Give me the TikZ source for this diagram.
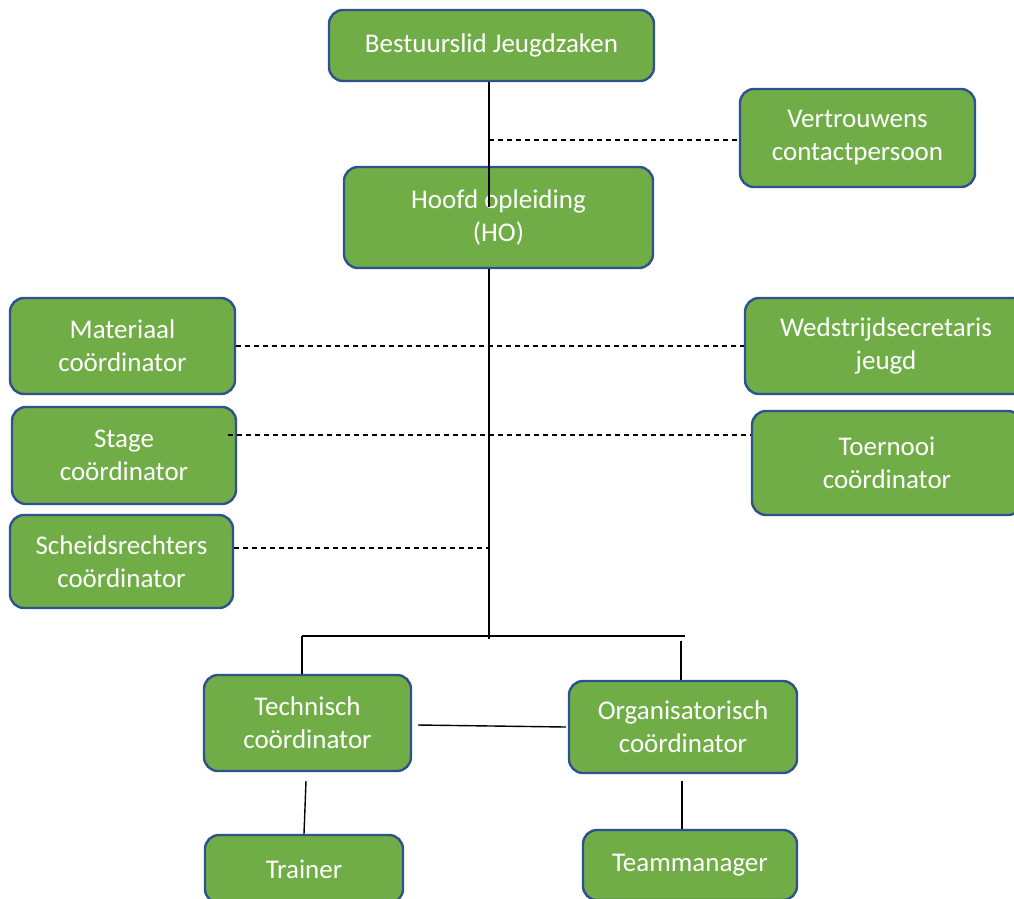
\documentclass[tikz,border=0pt]{standalone}
\usepackage{fontspec}
\setmainfont{Carlito}
\usetikzlibrary{calc}
\definecolor{boxfill}{HTML}{70AD47}
\definecolor{boxline}{HTML}{2F528F}
\tikzset{
  orgbox/.style={draw=boxline, fill=boxfill, line width=2.4pt, rounded corners=14pt,
    text=white, align=center, inner sep=0pt,
    font=\fontsize{27}{33}\selectfont},
  link/.style={draw=black, line width=1.4pt},
  dlink/.style={draw=black, line width=1.2pt, dash pattern=on 5pt off 4pt}
}
\begin{document}
\begin{tikzpicture}[x=1pt,y=-1pt]
\useasboundingbox (0,0) rectangle (1014,898);
% boxes
\node[orgbox, minimum width=325pt, minimum height=71pt] (bj) at (491.5,45.5) {Bestuurslid Jeugdzaken};
\node[orgbox, minimum width=235pt, minimum height=98pt] (vc) at (857.5,138) {Vertrouwens\\contactpersoon};
\node[orgbox, minimum width=309pt, minimum height=101pt] (ho) at (498.5,217.5) {Hoofd opleiding\\(HO)};
\node[orgbox, minimum width=225pt, minimum height=96pt] (mc) at (122.5,346) {Materiaal\\coördinator};
\node[orgbox, minimum width=224pt, minimum height=97pt] (sc) at (124,455.5) {Stage\\coördinator};
\node[orgbox, minimum width=223pt, minimum height=93pt] (sr) at (121.5,561.5) {Scheidsrechters\\coördinator};
\node[orgbox, minimum width=282pt, minimum height=96pt] (ws) at (886,346) {Wedstrijdsecretaris\\jeugd};
\node[orgbox, minimum width=270pt, minimum height=104pt] (tc) at (887,463) {Toernooi\\coördinator};
\node[orgbox, minimum width=207pt, minimum height=96pt] (tk) at (307.5,723) {Technisch\\coördinator};
\node[orgbox, minimum width=228pt, minimum height=92pt] (oc) at (683,727) {Organisatorisch\\coördinator};
\node[orgbox, minimum width=198pt, minimum height=68pt] (tr) at (304,869) {Trainer};
\node[orgbox, minimum width=214pt, minimum height=70pt] (tm) at (690,865) {Teammanager};
% coordinates
\coordinate (sp1) at (489,207);
\coordinate (sp2) at (489,639);
\coordinate (d1) at (489,140);
\coordinate (d3) at (228,435);
\coordinate (d4) at (489,548);
\coordinate (bl) at (302,636);
\coordinate (br) at (685,636);
\coordinate (or1) at (681,641);
\coordinate (t1) at (306,781);
\coordinate (m1) at (682,781);
% connectors
\draw[link] (bj.south -| sp1) -- (sp1);
\draw[link] (ho.south -| sp2) -- (sp2);
\draw[dlink] (d1) -- (vc.west |- d1);
\draw[dlink] (mc.east) -- (ws.west);
\draw[dlink] (d3) -- (tc.west |- d3);
\draw[dlink] (sr.east |- d4) -- (d4);
\draw[link] (bl) -- (br);
\draw[link] (bl) -- (tk.north -| bl);
\draw[link] (or1) -- (oc.north -| or1);
\draw[link] ($(tk.east)+(6,2)$) -- ($(oc.west)+(-2,0)$);
\draw[link] (t1) -- (tr.north);
\draw[link] (m1) -- (tm.north -| m1);
\end{tikzpicture}
\end{document}
